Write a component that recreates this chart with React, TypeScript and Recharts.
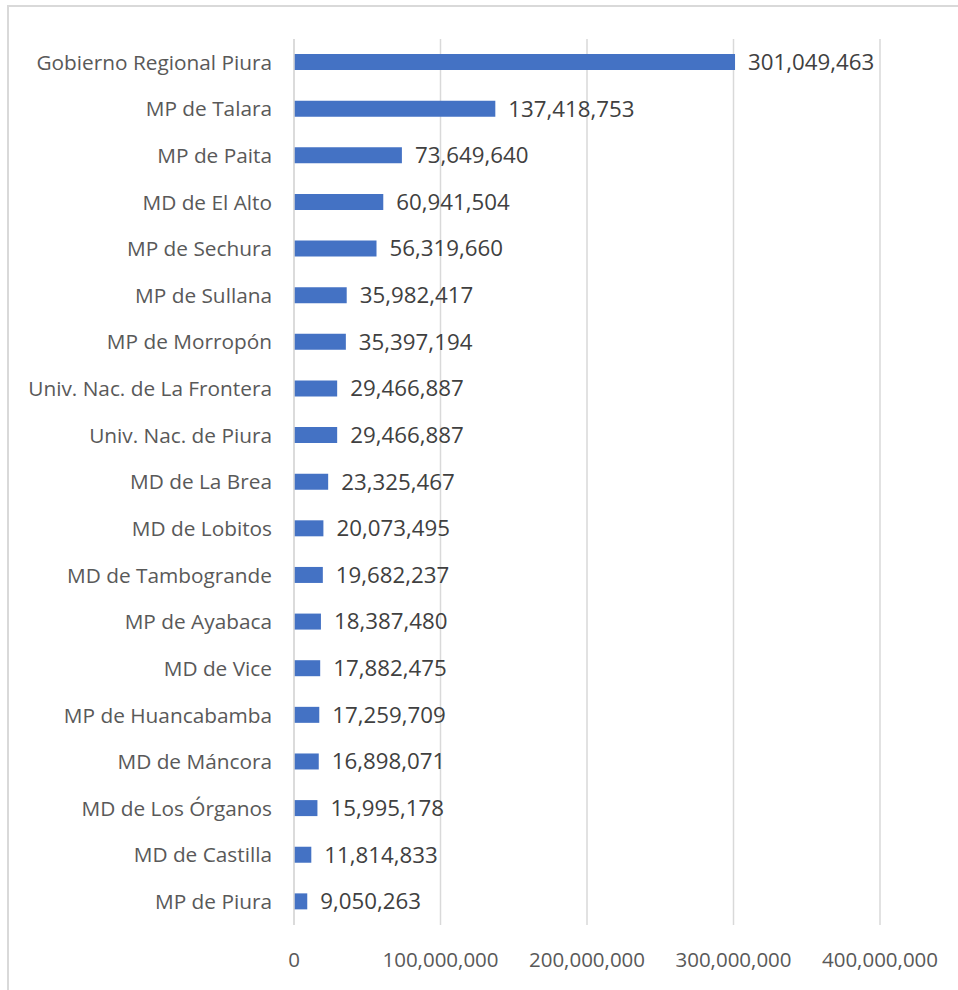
import React from 'react';
import { BarChart, Bar, XAxis, YAxis, CartesianGrid, LabelList } from 'recharts';

const categories = [
  'Gobierno Regional Piura',
  'MP de Talara',
  'MP de Paita',
  'MD de El Alto',
  'MP de Sechura',
  'MP de Sullana',
  'MP de Morropón',
  'Univ. Nac. de La Frontera',
  'Univ. Nac. de Piura',
  'MD de La Brea',
  'MD de Lobitos',
  'MD de Tambogrande',
  'MP de Ayabaca',
  'MD de Vice',
  'MP de Huancabamba',
  'MD de Máncora',
  'MD de Los Órganos',
  'MD de Castilla',
  'MP de Piura'
];
const amounts = [
  301049463, 137418753, 73649640, 60941504, 56319660, 35982417, 35397194,
  29466887, 29466887, 23325467, 20073495, 19682237, 18387480, 17882475,
  17259709, 16898071, 15995178, 11814833, 9050263
];
const xTicks = [0, 100000000, 200000000, 300000000, 400000000];

const data = categories.map((name, i) => ({ name, value: amounts[i] }));
const fmt = (v: number) => v.toLocaleString('en-US');
const font = 'Open Sans, sans-serif';

export default function App() {
  return <div style={{ position: 'absolute', left: 0, top: 0, width: 958, height: 990, overflow: 'hidden', background: '#fff', fontFamily: font }}>
      <div style={{ position: 'absolute', left: 7, top: 5, width: 1000, height: 1000, borderLeft: '2px solid #d9d9d9', borderTop: '2px solid #d9d9d9' }} />
      <BarChart width={958} height={990} data={data} layout="vertical" margin={{ top: 39, right: 78, bottom: 25, left: 0 }} barCategoryGap={15} style={{ position: 'absolute', left: 0, top: 0 }}>
        <CartesianGrid horizontal={false} stroke="#d9d9d9" strokeWidth={1.5} />
        <XAxis type="number" domain={[0, 400000000]} ticks={xTicks} tickFormatter={fmt} axisLine={false} tickLine={false} tickSize={0} tickMargin={27} height={40} tick={{ fill: '#595959', fontSize: 20.5, fontFamily: font }} />
        <YAxis type="category" dataKey="name" width={294} axisLine={{ stroke: '#d9d9d9', strokeWidth: 1.5 }} tickLine={false} tickSize={0} tickMargin={22} interval={0} tick={{ fill: '#595959', fontSize: 20.8, fontFamily: font }} />
        <Bar dataKey="value" fill="#4472C4" barSize={16} isAnimationActive={false}>
          <LabelList dataKey="value" position="right" offset={13} formatter={fmt} style={{ fill: '#404040', fontSize: 22.3, fontFamily: font }} />
        </Bar>
      </BarChart>
    </div>;
}
